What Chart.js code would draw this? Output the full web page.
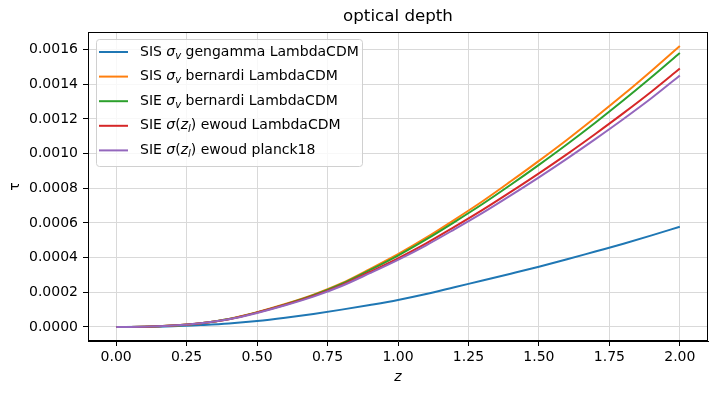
<!DOCTYPE html>
<html>
<head>
<meta charset="utf-8">
<script src="https://cdn.jsdelivr.net/npm/chart.js@4.4.0/dist/chart.umd.min.js"></script>
<style>
  html, body { margin: 0; padding: 0; background: #fff; }
  #wrap { width: 717px; height: 393px; }
</style>
</head>
<body>
<div id="wrap"><canvas id="chart" width="717" height="393"></canvas></div>
<script>
// redshift grid
var zValues = [0.0, 0.1, 0.2, 0.3, 0.4, 0.5, 0.6, 0.7, 0.8, 0.9, 1.0,
               1.1, 1.2, 1.3, 1.4, 1.5, 1.6, 1.7, 1.8, 1.9, 2.0];

var sisGengamma = [0, 0.0000005, 0.000004, 0.000011, 0.000020, 0.000034, 0.000053, 0.000075, 0.000100, 0.000127, 0.000156,
                   0.000190, 0.000229, 0.000268, 0.000307, 0.000347, 0.000390, 0.000435, 0.000480, 0.000528, 0.000578];
var sisBernardi = [0, 0.000001, 0.000008, 0.000022, 0.000046, 0.000085, 0.000132, 0.000186, 0.000252, 0.000334, 0.000420,
                   0.000515, 0.000618, 0.000725, 0.000840, 0.000958, 0.001080, 0.001208, 0.001340, 0.001478, 0.001620];
var sieBernardi = [0, 0.000001, 0.000008, 0.000022, 0.000046, 0.000084, 0.000130, 0.000183, 0.000248, 0.000328, 0.000412,
                   0.000505, 0.000605, 0.000709, 0.000820, 0.000935, 0.001054, 0.001178, 0.001307, 0.001441, 0.001580];
var sieEwoudLcdm = [0, 0.000001, 0.000008, 0.000022, 0.000045, 0.000083, 0.000128, 0.000179, 0.000241, 0.000317, 0.000396,
                    0.000482, 0.000577, 0.000675, 0.000779, 0.000886, 0.000997, 0.001113, 0.001233, 0.001358, 0.001490];
var sieEwoudPlanck = [0, 0.000001, 0.000008, 0.000021, 0.000044, 0.000081, 0.000125, 0.000175, 0.000236, 0.000310, 0.000387,
                      0.000471, 0.000563, 0.000658, 0.000759, 0.000863, 0.000971, 0.001083, 0.001199, 0.001320, 0.001450];

var xTicks = [0, 0.25, 0.5, 0.75, 1.0, 1.25, 1.5, 1.75, 2.0];
var yTicks = [0, 0.0002, 0.0004, 0.0006, 0.0008, 0.0010, 0.0012, 0.0014, 0.0016];

var colors = ['#1f77b4', '#ff7f0e', '#2ca02c', '#d62728', '#9467bd'];

// legend entries: pieces of [text, italic, subscript]
var legendEntries = [
  [['SIS ', 0, 0], ['σ', 1, 0], ['v', 1, 1], [' gengamma LambdaCDM', 0, 0]],
  [['SIS ', 0, 0], ['σ', 1, 0], ['v', 1, 1], [' bernardi LambdaCDM', 0, 0]],
  [['SIE ', 0, 0], ['σ', 1, 0], ['v', 1, 1], [' bernardi LambdaCDM', 0, 0]],
  [['SIE ', 0, 0], ['σ', 1, 0], ['(', 0, 0], ['z', 1, 0], ['l', 1, 1], [')', 0, 0], [' ewoud LambdaCDM', 0, 0]],
  [['SIE ', 0, 0], ['σ', 1, 0], ['(', 0, 0], ['z', 1, 0], ['l', 1, 1], [')', 0, 0], [' ewoud planck18', 0, 0]]
];

function toPoints(ys) {
  return zValues.map(function (z, i) { return { x: z, y: ys[i] }; });
}

var seriesList = [sisGengamma, sisBernardi, sieBernardi, sieEwoudLcdm, sieEwoudPlanck];

var datasets = seriesList.map(function (s, i) {
  return {
    data: toPoints(s),
    borderColor: colors[i],
    borderWidth: 2,
    pointRadius: 0,
    cubicInterpolationMode: 'monotone',
    fill: false,
    order: 4 - i
  };
});

var FONT = '"DejaVu Sans", sans-serif';

var extras = {
  id: 'extras',
  afterDraw: function (chart) {
    var ctx = chart.ctx;
    var a = chart.chartArea;
    var l = Math.round(a.left), t = Math.round(a.top), r = Math.round(a.right), b = Math.round(a.bottom);
    ctx.save();
    // full frame
    ctx.fillStyle = '#000';
    ctx.fillRect(l, t, r - l, 1);
    ctx.fillRect(l, b - 1, r - l, 1);
    ctx.fillRect(l, t, 1, b - t);
    ctx.fillRect(r - 1, t, 1, b - t);
    // title
    ctx.font = '16.7px ' + FONT;
    ctx.textAlign = 'center';
    ctx.textBaseline = 'middle';
    ctx.fillText('optical depth', (a.left + a.right) / 2, 17);

    // legend
    var bx = a.left + 8, by = a.top + 7, bw = 266, bh = 127;
    ctx.globalAlpha = 0.8;
    ctx.fillStyle = '#fff';
    ctx.beginPath();
    ctx.roundRect(bx + 0.5, by + 0.5, bw, bh, 3);
    ctx.fill();
    ctx.globalAlpha = 1;
    ctx.strokeStyle = '#d0d0d0';
    ctx.lineWidth = 1;
    ctx.stroke();

    legendEntries.forEach(function (pieces, i) {
      var y = by + 13 + i * 24.6;
      ctx.strokeStyle = colors[i];
      ctx.lineWidth = 2;
      ctx.beginPath();
      ctx.moveTo(bx + 3, y);
      ctx.lineTo(bx + 32, y);
      ctx.stroke();
      var x = bx + 44;
      ctx.fillStyle = '#000';
      ctx.textAlign = 'left';
      ctx.textBaseline = 'middle';
      pieces.forEach(function (p) {
        var size = p[2] ? 10 : 14;
        ctx.font = (p[1] ? 'italic ' : '') + size + 'px ' + FONT;
        ctx.fillText(p[0], x, y + (p[2] ? 4 : 0));
        x += ctx.measureText(p[0]).width;
      });
    });
    ctx.restore();
  }
};

new Chart(document.getElementById('chart'), {
  type: 'line',
  data: { datasets: datasets },
  plugins: [extras],
  options: {
    responsive: false,
    animation: false,
    layout: { padding: { top: 32, right: 9, left: 0, bottom: 0 } },
    plugins: { legend: { display: false }, tooltip: { enabled: false }, title: { display: false } },
    scales: {
      x: {
        type: 'linear',
        min: -0.1,
        max: 2.1,
        afterFit: function (s) { s.height = 52; },
        afterBuildTicks: function (s) { s.ticks = xTicks.map(function (v) { return { value: v }; }); },
        ticks: {
          color: '#000',
          padding: 3,
          maxRotation: 0,
          font: { family: FONT, size: 14 },
          callback: function (v) { return Number(v).toFixed(2); }
        },
        grid: { color: '#d9d9d9', tickColor: '#000', tickLength: 5, lineWidth: 1 },
        border: { color: '#000' },
        title: {
          display: true,
          text: 'z',
          color: '#000',
          font: { family: FONT, size: 14, style: 'italic' },
          padding: { top: 0, bottom: 7 }
        }
      },
      y: {
        min: -0.000081,
        max: 0.001701,
        afterFit: function (s) { s.width = 88; },
        afterBuildTicks: function (s) { s.ticks = yTicks.map(function (v) { return { value: v }; }); },
        ticks: {
          color: '#000',
          padding: 5,
          font: { family: FONT, size: 14 },
          callback: function (v) { return Number(v).toFixed(4); }
        },
        grid: { color: '#d9d9d9', tickColor: '#000', tickLength: 5, lineWidth: 1 },
        border: { color: '#000' },
        title: {
          display: true,
          text: 'τ',
          color: '#000',
          font: { family: FONT, size: 14 },
          padding: { top: 7, bottom: 0 }
        }
      }
    }
  }
});
</script>
</body>
</html>
